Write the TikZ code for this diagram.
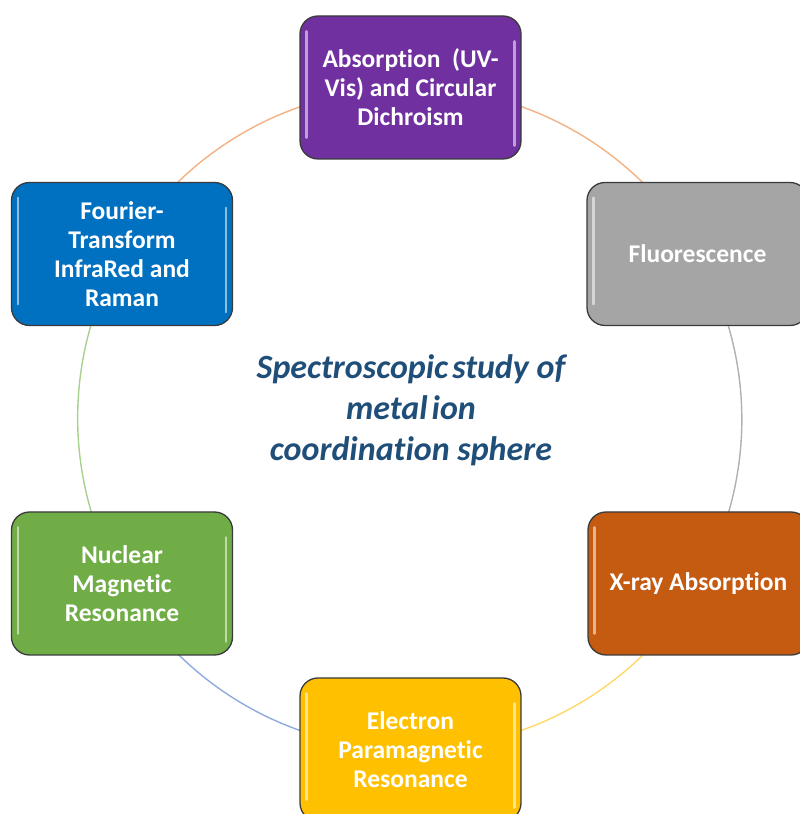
\documentclass[tikz,border=0pt]{standalone}
\usepackage{fontspec}
\setmainfont{Carlito}[RawFeature={-liga;-clig;-calt;-dlig;-rlig}]
\usetikzlibrary{backgrounds}
\definecolor{cpurple}{HTML}{7030A0}
\definecolor{cblue}{HTML}{0070C0}
\definecolor{cgray}{HTML}{A5A5A5}
\definecolor{corange}{HTML}{C55A11}
\definecolor{cyellow}{HTML}{FFC000}
\definecolor{cgreen}{HTML}{70AD47}
\definecolor{boxline}{HTML}{3A3A3A}
\definecolor{ctitle}{HTML}{1F4E79}
\definecolor{rorange}{HTML}{F4B183}
\definecolor{rgray}{HTML}{B0B0B0}
\definecolor{ryellow}{HTML}{FFD966}
\definecolor{rblue}{HTML}{8FAADC}
\definecolor{rgreen}{HTML}{A9D18E}
\begin{document}
\begin{tikzpicture}[x=1pt,y=1pt,
  box/.style={draw=boxline, line width=1.3pt, rounded corners=18pt,
    minimum width=221pt, minimum height=143pt, text=white, inner sep=0pt,
    font=\bfseries\fontsize{25.5}{29}\selectfont, align=center},
  ring/.style={line width=1.4pt},
  hl/.style={white, opacity=0.55, line width=2.5pt, line cap=round},
  title/.style={text=ctitle, align=center,
    font=\bfseries\itshape\fontsize{34}{41}\selectfont}]
\useasboundingbox (0,0) rectangle (800,814);
\clip (0,0) rectangle (800,814);
\node[box, fill=cpurple] (abs) at (410.5,726.5) {Absorption\ \ (UV-\\Vis) and Circular\\Dichroism};
\node[box, fill=cgray] (fluo) at (697.5,560) {Fluorescence};
\node[box, fill=corange] (xray) at (698.5,230.5) {X-ray Absorption};
\node[box, fill=cyellow] (epr) at (410.5,64.5) {Electron\\Paramagnetic\\Resonance};
\node[box, fill=cgreen] (nmr) at (122,230.5) {Nuclear\\Magnetic\\Resonance};
\node[box, fill=cblue] (ftir) at (122,560) {Fourier-\\Transform\\InfraRed and\\Raman};
\foreach \n in {abs,fluo,xray,epr,nmr,ftir}{
  \draw[hl] ([xshift=7pt,yshift=-16pt]\n.north west) -- ([xshift=7pt,yshift=22pt]\n.south west);
  \draw[hl] ([xshift=-7pt,yshift=-26pt]\n.north east) -- ([xshift=-7pt,yshift=14pt]\n.south east);
}
\node[title] (t) at (411,404) {Spectroscopic\hspace{0.12em}study of\\metal\hspace{0.12em}ion\\coordination sphere};
\begin{scope}[on background layer]
\draw[ring, rorange] (abs.center) arc[start angle=90, end angle=30, radius=331];
\draw[ring, rgray] (fluo.center) arc[start angle=30, end angle=-30, radius=331];
\draw[ring, ryellow] (xray.center) arc[start angle=-30, end angle=-90, radius=331];
\draw[ring, rblue] (epr.center) arc[start angle=-90, end angle=-150, radius=331];
\draw[ring, rgreen] (nmr.center) arc[start angle=-150, end angle=-210, radius=331];
\draw[ring, rorange] (ftir.center) arc[start angle=150, end angle=90, radius=331];
\end{scope}
\end{tikzpicture}
\end{document}
